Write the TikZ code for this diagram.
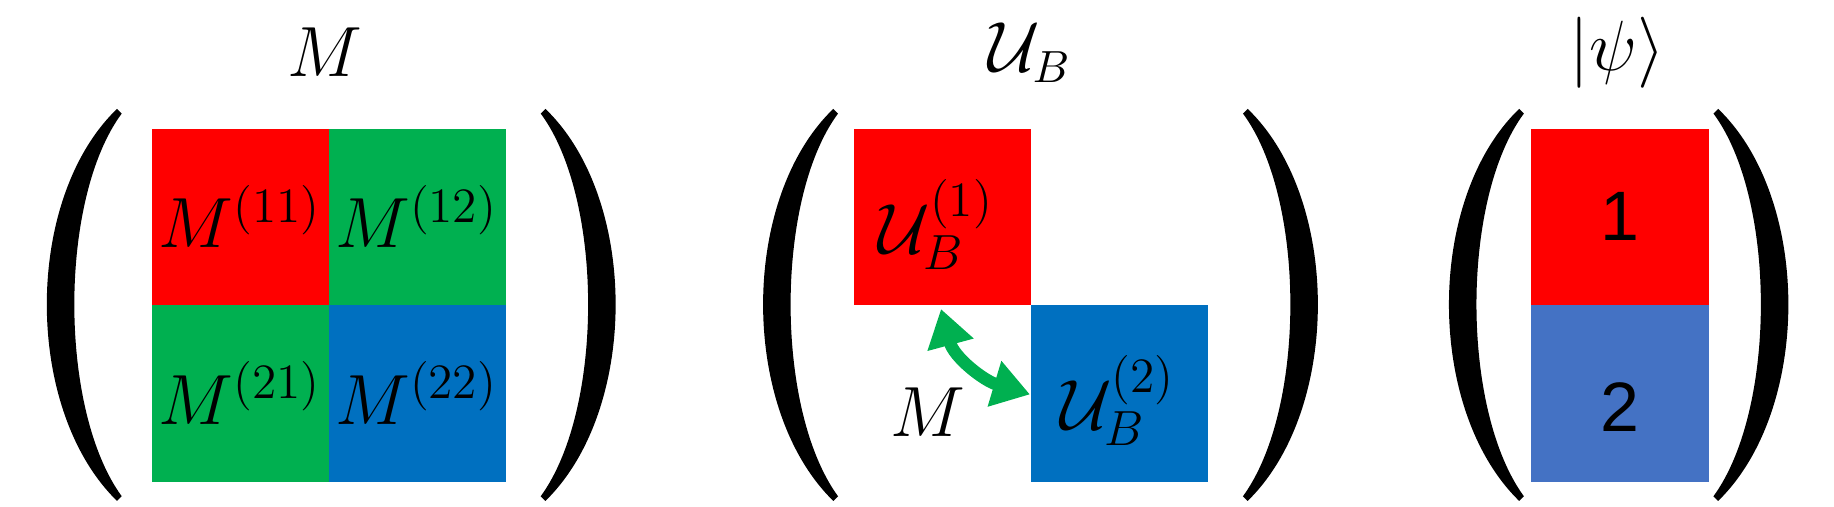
\documentclass[tikz,border=0pt]{standalone}
\usepackage{fontspec}
\setsansfont{Liberation Sans}
\usetikzlibrary{arrows.meta}
\definecolor{cr}{HTML}{FF0000}
\definecolor{cg}{HTML}{00B050}
\definecolor{cb}{HTML}{0070C0}
\definecolor{cb2}{HTML}{4472C4}
\tikzset{
 lpar/.pic={\fill[black] (0,0) .. controls (-80,77) and (-80,257) .. (0,335) -- (4,331) .. controls (-50,257) and (-50,77) .. (4,4) -- cycle;},
 big/.style={font=\fontsize{17.5}{21}\selectfont,inner sep=0pt},
 lab/.style={font=\fontsize{16}{19}\selectfont},
 num/.style={font=\sffamily\fontsize{17}{20}\selectfont},
}
\begin{document}
\begin{tikzpicture}[x=0.01cm,y=-0.01cm]
\useasboundingbox (0,0) rectangle (1567,433);
% left matrix
\fill[cr] (130,110) rectangle (281,261);
\fill[cg] (281,110) rectangle (432,261);
\fill[cg] (130,261) rectangle (281,412);
\fill[cb] (281,261) rectangle (432,412);
\node[big] (m11) at (205,185) {$M^{(11)}$};
\node[big] (m12) at (356,185) {$M^{(12)}$};
\node[big] (m21) at (205,336) {$M^{(21)}$};
\node[big] (m22) at (356,336) {$M^{(22)}$};
\pic at (100,93) {lpar};
\pic[xscale=-1] at (466,93) {lpar};
\node[lab] (lm) at (278,45) {$M$};
% middle
\fill[cr] (730,110) rectangle (881,261);
\fill[cb] (881,261) rectangle (1032,412);
\node[big] (u1) at (800,192) {$\mathcal{U}_B^{(1)}$};
\node[big] (u2) at (955,342) {$\mathcal{U}_B^{(2)}$};
\pic at (712,93) {lpar};
\pic[xscale=-1] at (1066,93) {lpar};
\node[lab] (lu) at (880,45) {$\mathcal{U}_B$};
\coordinate (a1) at (804,264);
\coordinate (a2) at (880,337);
\draw[cg,line width=3pt,{Triangle[width=11pt,length=9pt]}-{Triangle[width=11pt,length=9pt]}] (a1) .. controls (815,305) and (840,325) .. (a2);
\node[lab] (lm2) at (793,352) {$M$};
% right
\fill[cr] (1308,110) rectangle (1460,261);
\fill[cb2] (1308,261) rectangle (1460,412);
\node[num] (n1) at (1384,185) {1};
\node[num] (n2) at (1384,348) {2};
\pic at (1298,93) {lpar};
\pic[xscale=-1] at (1468,93) {lpar};
\node[lab] (lp) at (1382,45) {$|\psi\rangle$};
\end{tikzpicture}
\end{document}
